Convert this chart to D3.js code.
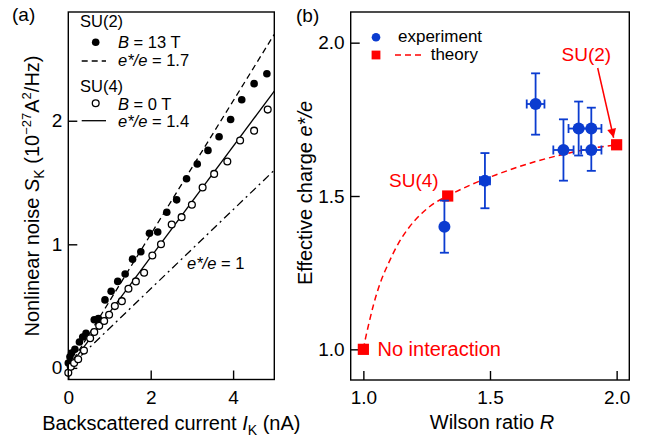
<!DOCTYPE html>
<html>
<head>
<meta charset="utf-8">
<script src="https://cdn.jsdelivr.net/npm/d3@7"></script>
<style>
  body { margin: 0; background: #fff; }
  svg { display: block; font-family: "Liberation Sans", Arial, Helvetica, sans-serif; }
</style>
</head>
<body>
<div id="chart"></div>
<script>
// ---- panel (a): nonlinear noise vs backscattered current ----
const su2Current = [0.0, 0.04, 0.08, 0.16, 0.27, 0.35, 0.43, 0.63, 0.73, 0.89, 1.04, 1.2, 1.38, 1.56, 1.76, 1.97, 2.17, 2.39, 2.63, 2.87, 3.13, 3.39, 3.66, 3.94, 4.21, 4.51, 4.82];
const su2Noise = [0.04, 0.09, 0.12, 0.15, 0.21, 0.25, 0.28, 0.39, 0.4, 0.55, 0.62, 0.7, 0.76, 0.88, 0.94, 1.09, 1.1, 1.26, 1.36, 1.53, 1.65, 1.76, 1.87, 2.01, 2.17, 2.3, 2.38];
const su4Current = [0.0, 0.06, 0.14, 0.24, 0.38, 0.53, 0.63, 0.75, 0.87, 0.99, 1.13, 1.3, 1.46, 1.64, 1.84, 2.04, 2.25, 2.51, 2.75, 3.0, 3.26, 3.54, 3.86, 4.17, 4.51, 4.84];
const su4Noise = [-0.04, 0.01, 0.04, 0.07, 0.14, 0.24, 0.29, 0.34, 0.38, 0.43, 0.5, 0.54, 0.64, 0.7, 0.77, 0.91, 1.0, 1.16, 1.22, 1.32, 1.46, 1.57, 1.67, 1.84, 1.92, 2.09];
// straight lines for e*/e = 1.7, 1.4 and 1 (end points)
const lineLabels = ["1.7", "1.4", "1"];
const lineCurrent = [[0, 5], [0, 5], [0, 5]];
const lineNoise = [[0, 2.7], [0, 2.24], [0, 1.6]];
const lineDash = ["6,4", null, "8,4,2,4"];
const ticksAx = [0, 2, 4];
const ticksAy = [0, 1, 2];

// ---- panel (b): effective charge vs Wilson ratio ----
const expRatio = [1.32, 1.48, 1.68, 1.79, 1.85, 1.9, 1.9];
const expCharge = [1.4, 1.55, 1.8, 1.65, 1.72, 1.72, 1.65];
const expChargeErr = [0.085, 0.09, 0.1, 0.1, 0.088, 0.068, 0.068];
const expRatioErr = [0, 0.02, 0.035, 0.04, 0.04, 0.04, 0.04];
const theoryRatio = [1.0, 1.333, 2.0];
const theoryCharge = [1.0, 1.5, 1.667];
const curveRatio = [1.0, 1.007, 1.022, 1.04, 1.066, 1.099, 1.138, 1.178, 1.23, 1.283, 1.333, 1.42, 1.527, 1.658, 1.79, 1.92, 2.0];
const curveCharge = [1.0, 1.03, 1.085, 1.145, 1.215, 1.28, 1.345, 1.395, 1.443, 1.478, 1.5, 1.535, 1.57, 1.607, 1.636, 1.658, 1.667];
const ticksB = [1.0, 1.5, 2.0];

const BLUE = "#0b3cd0";
const RED = "#ff0000";

const svg = d3.select("#chart").append("svg")
  .attr("width", 650)
  .attr("height", 441);

// text made of pieces: {t, i (italic), s (shift: "sub"/"sup"), fs}
function richText(parent, parts, attrs) {
  const text = parent.append("text");
  Object.entries(attrs).forEach(([k, v]) => text.attr(k, v));
  let shift = 0;
  parts.forEach((p) => {
    const span = text.append("tspan").text(p.t);
    if (p.i) span.style("font-style", "italic");
    if (p.fs) span.style("font-size", p.fs + "px");
    const target = p.s === "sub" ? 5 : p.s === "sup" ? -8 : 0;
    if (target !== shift) {
      span.attr("dy", target - shift);
      shift = target;
    }
  });
  return text;
}

function frame(x0, x1, y0, y1) {
  svg.append("rect")
    .attr("x", x0).attr("y", y0)
    .attr("width", x1 - x0).attr("height", y1 - y0)
    .attr("fill", "none")
    .attr("stroke", "#000")
    .attr("stroke-width", 1.4);
}

function styleAxis(g) {
  g.select(".domain").remove();
  g.selectAll(".tick line").attr("stroke", "#000").attr("stroke-width", 1.4);
  g.selectAll(".tick text")
    .attr("fill", "#000")
    .style("font-size", "19px")
    .style("font-family", "'Liberation Sans', Arial, sans-serif");
}

// ================= panel (a) =================
const xA = d3.scaleLinear().domain([0, 5]).range([68.3, 274.3]);
const yA = d3.scaleLinear().domain([-0.094, 2.88]).range([379.5, 12]);

svg.append("defs").append("clipPath").attr("id", "clipA")
  .append("rect")
  .attr("x", 68.3).attr("y", 12)
  .attr("width", 206).attr("height", 367.5);

const gA = svg.append("g");

gA.append("g")
  .attr("transform", "translate(0,379.5)")
  .call(d3.axisBottom(xA).tickValues(ticksAx).tickSize(-9).tickPadding(11).tickFormat(d3.format("d")))
  .call(styleAxis);

gA.append("g")
  .attr("transform", "translate(68.3,0)")
  .call(d3.axisLeft(yA).tickValues(ticksAy).tickSize(-9).tickPadding(6).tickFormat(d3.format("d")))
  .call(styleAxis);

const lineA = d3.line().x((d) => xA(d[0])).y((d) => yA(d[1]));
lineLabels.forEach((lab, i) => {
  gA.append("path")
    .attr("clip-path", "url(#clipA)")
    .attr("d", lineA(d3.zip(lineCurrent[i], lineNoise[i])))
    .attr("fill", "none")
    .attr("stroke", "#000")
    .attr("stroke-width", 1.3)
    .attr("stroke-dasharray", lineDash[i]);
});

gA.append("g").selectAll("circle")
  .data(d3.zip(su2Current, su2Noise))
  .join("circle")
  .attr("cx", (d) => xA(d[0]))
  .attr("cy", (d) => yA(d[1]))
  .attr("r", 3.8)
  .attr("fill", "#000");

gA.append("g").selectAll("circle")
  .data(d3.zip(su4Current, su4Noise))
  .join("circle")
  .attr("cx", (d) => xA(d[0]))
  .attr("cy", (d) => yA(d[1]))
  .attr("r", 3.4)
  .attr("fill", "#fff")
  .attr("stroke", "#000")
  .attr("stroke-width", 1.3);

frame(68.3, 274.3, 12, 379.5);

// legend (a)
const legA = gA.append("g").style("font-size", "16.5px");
legA.append("text").attr("x", 80).attr("y", 27).text("SU(2)");
legA.append("circle").attr("cx", 95.7).attr("cy", 42.3).attr("r", 3.8).attr("fill", "#000");
richText(legA, [{ t: "B", i: true }, { t: " = 13 T" }], { x: 118, y: 48 });
legA.append("line").attr("x1", 81.7).attr("x2", 106).attr("y1", 61).attr("y2", 61)
  .attr("stroke", "#000").attr("stroke-width", 1.3).attr("stroke-dasharray", lineDash[0]);
richText(legA, [{ t: "e*/e", i: true }, { t: " = " + lineLabels[0] }], { x: 118, y: 66 });
legA.append("text").attr("x", 80).attr("y", 92).text("SU(4)");
legA.append("circle").attr("cx", 95.7).attr("cy", 103.3).attr("r", 3.4)
  .attr("fill", "#fff").attr("stroke", "#000").attr("stroke-width", 1.3);
richText(legA, [{ t: "B", i: true }, { t: " = 0 T" }], { x: 118, y: 110 });
legA.append("line").attr("x1", 81.7).attr("x2", 106).attr("y1", 120.7).attr("y2", 120.7)
  .attr("stroke", "#000").attr("stroke-width", 1.3);
richText(legA, [{ t: "e*/e", i: true }, { t: " = " + lineLabels[1] }], { x: 118, y: 126.5 });
richText(legA, [{ t: "e*/e", i: true }, { t: " = " + lineLabels[2] }], { x: 187, y: 269 });

// axis titles (a)
richText(svg, [
  { t: "Backscattered current " },
  { t: "I", i: true },
  { t: "K", s: "sub", fs: 14 },
  { t: " (nA)" }
], { x: 171.3, y: 430, "text-anchor": "middle", style: "font-size:20px" });

richText(svg, [
  { t: "Nonlinear noise " },
  { t: "S", i: true },
  { t: "K", s: "sub", fs: 14 },
  { t: " (10" },
  { t: "\u221227", s: "sup", fs: 13 },
  { t: "A" },
  { t: "2", s: "sup", fs: 13 },
  { t: "/Hz)" }
], { transform: "translate(38.5,196) rotate(-90)", "text-anchor": "middle", style: "font-size:20px" });

svg.append("text").attr("x", 12).attr("y", 21).style("font-size", "19px").text("(a)");

// ================= panel (b) =================
const xB = d3.scaleLinear().domain([0.95, 2.05]).range([350.7, 629.3]);
const yB = d3.scaleLinear().domain([0.9, 2.1]).range([380, 12]);

const gB = svg.append("g");

gB.append("g")
  .attr("transform", "translate(0,380)")
  .call(d3.axisBottom(xB).tickValues(ticksB).tickSize(-9).tickPadding(11).tickFormat(d3.format(".1f")))
  .call(styleAxis);

gB.append("g")
  .attr("transform", "translate(350.7,0)")
  .call(d3.axisLeft(yB).tickValues(ticksB).tickSize(-9).tickPadding(6).tickFormat(d3.format(".1f")))
  .call(styleAxis);

// theory curve
gB.append("path")
  .attr("d", d3.line().curve(d3.curveMonotoneX)
    .x((d) => xB(d[0])).y((d) => yB(d[1]))(d3.zip(curveRatio, curveCharge)))
  .attr("fill", "none")
  .attr("stroke", RED)
  .attr("stroke-width", 1.5)
  .attr("stroke-dasharray", "6,4");

gB.append("g").selectAll("rect")
  .data(d3.zip(theoryRatio, theoryCharge))
  .join("rect")
  .attr("x", (d) => xB(d[0]) - 5.6)
  .attr("y", (d) => yB(d[1]) - 5.6)
  .attr("width", 11.2)
  .attr("height", 11.2)
  .attr("fill", RED);

// experiment with error bars
const expData = expRatio.map((r, i) => ({ r, q: expCharge[i], dq: expChargeErr[i], dr: expRatioErr[i] }));
const bars = gB.append("g").attr("stroke", BLUE).attr("stroke-width", 1.8).attr("fill", "none");
expData.forEach((d) => {
  const cx = xB(d.r), cy = yB(d.q);
  const yt = yB(d.q + d.dq), yb = yB(d.q - d.dq);
  bars.append("line").attr("x1", cx).attr("x2", cx).attr("y1", yt).attr("y2", yb);
  bars.append("line").attr("x1", cx - 4.5).attr("x2", cx + 4.5).attr("y1", yt).attr("y2", yt);
  bars.append("line").attr("x1", cx - 4.5).attr("x2", cx + 4.5).attr("y1", yb).attr("y2", yb);
  if (d.dr > 0) {
    const xl = xB(d.r - d.dr), xr = xB(d.r + d.dr);
    bars.append("line").attr("x1", xl).attr("x2", xr).attr("y1", cy).attr("y2", cy);
    bars.append("line").attr("x1", xl).attr("x2", xl).attr("y1", cy - 4.5).attr("y2", cy + 4.5);
    bars.append("line").attr("x1", xr).attr("x2", xr).attr("y1", cy - 4.5).attr("y2", cy + 4.5);
  }
});
gB.append("g").selectAll("circle")
  .data(expData)
  .join("circle")
  .attr("cx", (d) => xB(d.r))
  .attr("cy", (d) => yB(d.q))
  .attr("r", 6)
  .attr("fill", BLUE);

frame(350.7, 629.3, 12, 380);

// legend (b)
const legB = gB.append("g").style("font-size", "17px");
legB.append("circle").attr("cx", 376).attr("cy", 37.3).attr("r", 4.3).attr("fill", BLUE);
legB.append("text").attr("x", 398).attr("y", 41.5).text("experiment");
legB.append("rect").attr("x", 371.6).attr("y", 50.6).attr("width", 8.8).attr("height", 8.8).attr("fill", RED);
legB.append("line").attr("x1", 395).attr("x2", 422).attr("y1", 55).attr("y2", 55)
  .attr("stroke", RED).attr("stroke-width", 1.5).attr("stroke-dasharray", "6,4");
legB.append("text").attr("x", 430.7).attr("y", 59.5).text("theory");

// annotations
const ann = gB.append("g").attr("fill", RED).style("font-size", "19px");
ann.append("text").attr("x", 561.5).attr("y", 60.5).text("SU(2)");
ann.append("text").attr("x", 389).attr("y", 187).text("SU(4)");
ann.append("text").attr("x", 377.5).attr("y", 356).style("font-size", "20px").text("No interaction");

svg.select("defs").append("marker")
  .attr("id", "arrow")
  .attr("viewBox", "0 0 10 10")
  .attr("refX", 10).attr("refY", 5)
  .attr("markerWidth", 10).attr("markerHeight", 9)
  .attr("markerUnits", "userSpaceOnUse")
  .attr("orient", "auto")
  .append("path").attr("d", "M0,0L10,5L0,10Z").attr("fill", RED);

gB.append("line")
  .attr("x1", 597.7).attr("y1", 68)
  .attr("x2", xB(theoryRatio[2]) - 3).attr("y2", yB(theoryCharge[2]) - 7)
  .attr("stroke", RED)
  .attr("stroke-width", 1.5)
  .attr("marker-end", "url(#arrow)");

// axis titles (b)
richText(svg, [{ t: "Wilson ratio " }, { t: "R", i: true }],
  { x: 492, y: 429, "text-anchor": "middle", style: "font-size:20px" });
richText(svg, [{ t: "Effective charge " }, { t: "e*/e", i: true }],
  { transform: "translate(311.5,193) rotate(-90)", "text-anchor": "middle", style: "font-size:20px" });

svg.append("text").attr("x", 296).attr("y", 22).style("font-size", "19px").text("(b)");
</script>
</body>
</html>
